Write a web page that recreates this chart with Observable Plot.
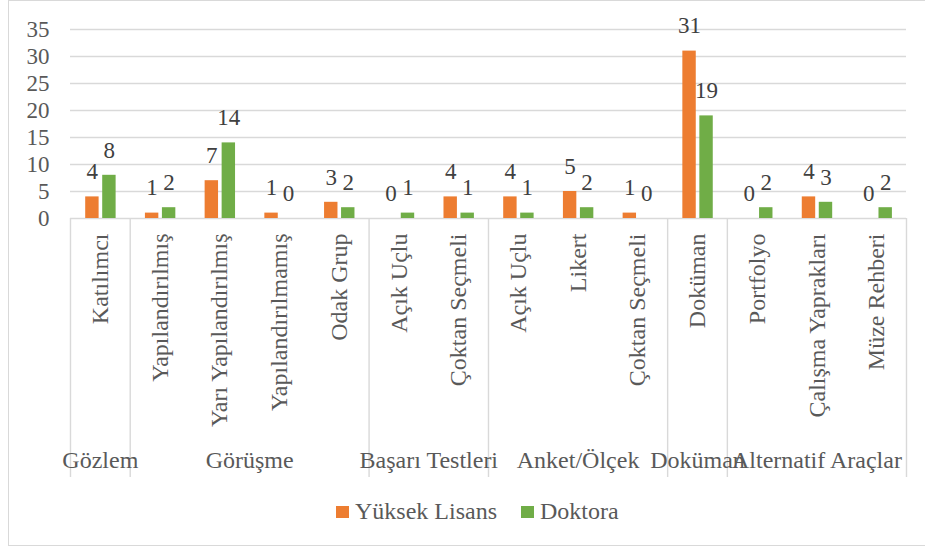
<!DOCTYPE html>
<html>
<head>
<meta charset="utf-8">
<script src="https://cdn.jsdelivr.net/npm/d3@7"></script>
<script src="https://cdn.jsdelivr.net/npm/@observablehq/plot@0.6"></script>
<style>
  body { margin: 0; background: #fff; color: #595959; font-family: 'Liberation Serif', serif; }
  #wrap { position: relative; width: 925px; height: 549px; overflow: hidden; background: #fff; }
  #border { position: absolute; left: 8px; top: 0; width: 960px; height: 546px; border: 1.5px solid #d9d9d9; box-sizing: border-box; }
  #chart { position: absolute; left: 0; top: 0; }
  #legend { position: absolute; left: 336px; top: 500px; display: flex; align-items: center; font-size: 24px; line-height: 23px; }
  .item { display: flex; align-items: center; margin-right: 24px; }
  .sw { width: 13px; height: 12px; margin-right: 6px; }
</style>
</head>
<body>
<div id="wrap">
  <div id="border"></div>
  <div id="chart"></div>
  <div id="legend"></div>
</div>
<script>
// ---- data ----
const categories = ["Katılımcı", "Yapılandırılmış", "Yarı Yapılandırılmış", "Yapılandırılmamış", "Odak Grup",
  "Açık Uçlu", "Çoktan Seçmeli", "Açık Uçlu", "Likert", "Çoktan Seçmeli",
  "Doküman", "Portfolyo", "Çalışma Yaprakları", "Müze Rehberi"];
const groups = ["Gözlem", "Görüşme", "Başarı Testleri", "Anket/Ölçek", "Doküman", "Alternatif Araçlar"];
const groupSizes = [1, 4, 2, 3, 1, 3];
const yuksekLisans = [4, 1, 7, 1, 3, 0, 4, 4, 5, 1, 31, 0, 4, 0];
const doktora = [8, 2, 14, 0, 2, 1, 1, 1, 2, 0, 19, 2, 3, 2];
const seriesNames = ["Yüksek Lisans", "Doktora"];
const seriesColors = ["#ED7D31", "#70AD47"];
const yTicks = [0, 5, 10, 15, 20, 25, 30, 35];

// ---- derived tables ----
const groupEnds = Array.from(d3.cumsum(groupSizes));
const groupStarts = groupEnds.map((e, i) => e - groupSizes[i]);
const boundaries = [0, ...groupEnds];
const catIdx = categories.map((c, i) => i);
const ylData = yuksekLisans.map((v, i) => ({i, v}));
const drData = doktora.map((v, i) => ({i, v}));

const num = {fontSize: 23, fontFamily: "Liberation Serif"};
const word = {fontSize: 24, fontFamily: "Liberation Serif"};

const chart = Plot.plot({
  width: 925,
  height: 490,
  marginLeft: 70,
  marginRight: 19,
  marginTop: 218,
  marginBottom: 13,
  style: {fontFamily: "Liberation Serif", fontSize: "23px", color: "#595959", background: "transparent"},
  x: {domain: [0, categories.length], axis: null},
  y: {domain: [0, 35], range: [218, 29], axis: null},
  marks: [
    Plot.gridY(yTicks.filter(t => t > 0), {stroke: "#d9d9d9", strokeOpacity: 1, strokeWidth: 1.4}),
    Plot.axisY(yTicks, {tickSize: 0, tickPadding: 21, label: null, ...num}),
    Plot.ruleY([0], {stroke: "#d9d9d9", strokeWidth: 1.4}),
    Plot.ruleX(boundaries, {stroke: "#d9d9d9", strokeWidth: 1.4}),
    Plot.rectY(ylData, {x1: d => d.i, x2: d => d.i + 1, y1: 0, y2: d => d.v, fill: seriesColors[0], insetLeft: 15.2, insetRight: 31.1}),
    Plot.rectY(drData, {x1: d => d.i, x2: d => d.i + 1, y1: 0, y2: d => d.v, fill: seriesColors[1], insetLeft: 32.2, insetRight: 14.1}),
    Plot.text(ylData, {x: d => d.i + 0.5, y: d => d.v, text: d => String(d.v), dx: -8, dy: -25, fill: "#404040", ...num}),
    Plot.text(drData, {x: d => d.i + 0.5, y: d => d.v, text: d => String(d.v), dx: 9, dy: -25, fill: "#404040", ...num}),
    Plot.text(catIdx, {x: i => i + 0.5, text: i => categories[i], frameAnchor: "top", lineAnchor: "middle", rotate: -90, textAnchor: "end", dy: 15, ...word}),
    Plot.text(groups, {x: (d, i) => groupStarts[i] + groupSizes[i] / 2, text: d => d, frameAnchor: "bottom", lineAnchor: "middle", dy: -16.8, ...word})
  ]
});
document.getElementById("chart").appendChild(chart);

const legend = document.getElementById("legend");
seriesNames.forEach((name, k) => {
  const item = document.createElement("div");
  item.className = "item";
  const sw = document.createElement("span");
  sw.className = "sw";
  sw.style.background = seriesColors[k];
  const label = document.createElement("span");
  label.textContent = name;
  item.appendChild(sw);
  item.appendChild(label);
  legend.appendChild(item);
});
</script>
</body>
</html>
